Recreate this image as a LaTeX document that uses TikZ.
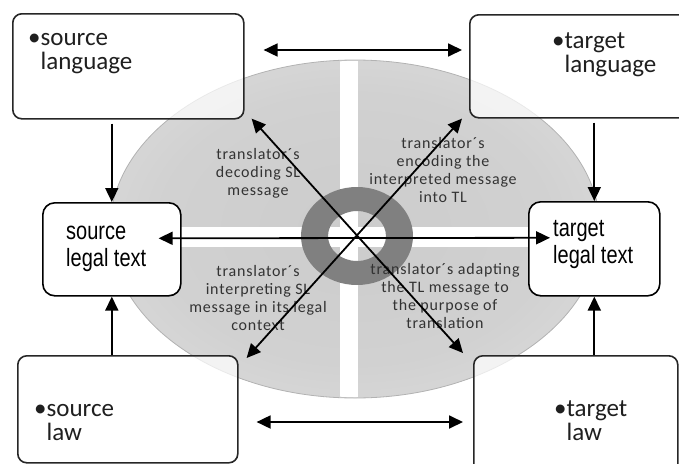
\documentclass[tikz,border=0pt]{standalone}
\usepackage{fontspec}
\setmainfont{Carlito}
\newfontfamily\arialn[FakeStretch=0.8]{Liberation Sans}
\newfontfamily\qfont[LetterSpace=5]{Carlito}
\usetikzlibrary{arrows.meta,calc}
\colorlet{ellA}{black!20}
\colorlet{ellB}{black!18}
\colorlet{ellC}{black!11}
\colorlet{ellD}{black!5}
\colorlet{ellE}{black!16}
\pgfdeclareradialshading{ellsh}{\pgfpoint{0bp}{0bp}}{color(0bp)=(ellA); color(20bp)=(ellB); color(40bp)=(ellC); color(47bp)=(ellD); color(50bp)=(ellE)}
\begin{document}
\begin{tikzpicture}[x=1pt,y=-1pt,
  tip/.tip={Triangle[length=14pt,width=13pt]},
  arr/.style={line width=1.8pt,-tip},
  darr/.style={line width=1.8pt,tip-tip},
  bigbox/.style={draw=black!85,line width=1.6pt,rounded corners=9pt,fill=white,fill opacity=0.72,inner sep=0pt,anchor=north west},
  legalbox/.style={draw=black,line width=1.6pt,rounded corners=12pt,fill=white,inner sep=0pt,anchor=north west},
  boxtext/.style={font=\fontsize{25}{24}\selectfont,align=left,anchor=base west,text=black!88,inner sep=0pt},
  legaltext/.style={font=\arialn\fontsize{25}{27}\selectfont,align=left,anchor=base west,inner sep=0pt},
  qtext/.style={font=\qfont\fontsize{16}{18}\selectfont,align=center,text=black!80,inner sep=0pt}]
\useasboundingbox (0,0) rectangle (679,463);
\clip (0,0) rectangle (679,463);
% background oval
\shade[shading=ellsh] (355,229) ellipse (245 and 169);
\draw[black!30,line width=0.8pt] (355,229) ellipse (245 and 169);
\begin{scope}
  \clip (355,229) ellipse (244 and 168);
  \fill[white] (340,40) rectangle (358,420);
  \fill[white] (90,227) rectangle (620,247);
\end{scope}
\fill[black!50,even odd rule] (357,236) ellipse (56 and 49) (357,236) ellipse (29 and 25);
% quadrant texts
\node[qtext] (q1) at (258,173) {translator´s\\decoding SL\\message};
\node[qtext] (q2) at (443,170) {translator´s\\encoding the\\interpreted message\\into TL};
\node[qtext] (q3) at (258,298) {translator´s\\interpreting SL\\message in its legal\\context};
\node[qtext] (q4) at (445,296) {translator´s adapting\\the TL message to\\the purpose of\\translation};
% boxes
\node[bigbox,minimum width=231pt,minimum height=105pt] (sl) at (12,13) {};
\node[bigbox,minimum width=221pt,minimum height=103pt] (tl) at (469,14) {};
\node[bigbox,minimum width=220pt,minimum height=107pt] (sw) at (17,355) {};
\node[bigbox,minimum width=204pt,minimum height=120pt] (tw) at (473,355) {};
\node[legalbox,minimum width=138pt,minimum height=93pt] (slt) at (42,202) {};
\node[legalbox,minimum width=131pt,minimum height=94pt] (tlt) at (528,201) {};
% box texts (base anchor = baseline of last line)
\node[boxtext] (slx) at (28,69) {•source\\\hphantom{•}language};
\node[boxtext] (tlx) at (552,72) {•target\\\hphantom{•}language};
\node[boxtext] (swx) at (34,440) {•source\\\hphantom{•}law};
\node[boxtext] (twx) at (554,440) {•target\\\hphantom{•}law};
\node[legaltext] (sltx) at (66,266) {source\\legal text};
\node[legaltext] (tltx) at (553,263) {target\\legal text};
% connectors
\draw[arr] ($(slt.north |- sl.south)+(0,4)$) -- (slt.north);
\draw[arr] ($(tlt.north |- tl.south)+(0,4)$) -- (tlt.north);
\draw[arr] (slt.south |- sw.north) -- (slt.south);
\draw[arr] (tlt.south |- tw.north) -- (tlt.south);
\draw[darr] ($(sl.north east)+(19,37)$) -- ($(tl.north west)+(-7,36)$);
\draw[darr] ($(sw.north east)+(18,67)$) -- ($(tw.north west)+(-10,67)$);
\draw[darr] ($(slt.east)+(-23,-11)$) -- ($(tlt.west)+(22,-11)$);
\draw[darr] ($(sl.south east)+(7,-1)$) -- ($(tw.north west)+(-10,-2)$);
\draw[darr] ($(tl.south west)+(-7,0)$) -- ($(sw.north east)+(8,3)$);
\end{tikzpicture}
\end{document}
